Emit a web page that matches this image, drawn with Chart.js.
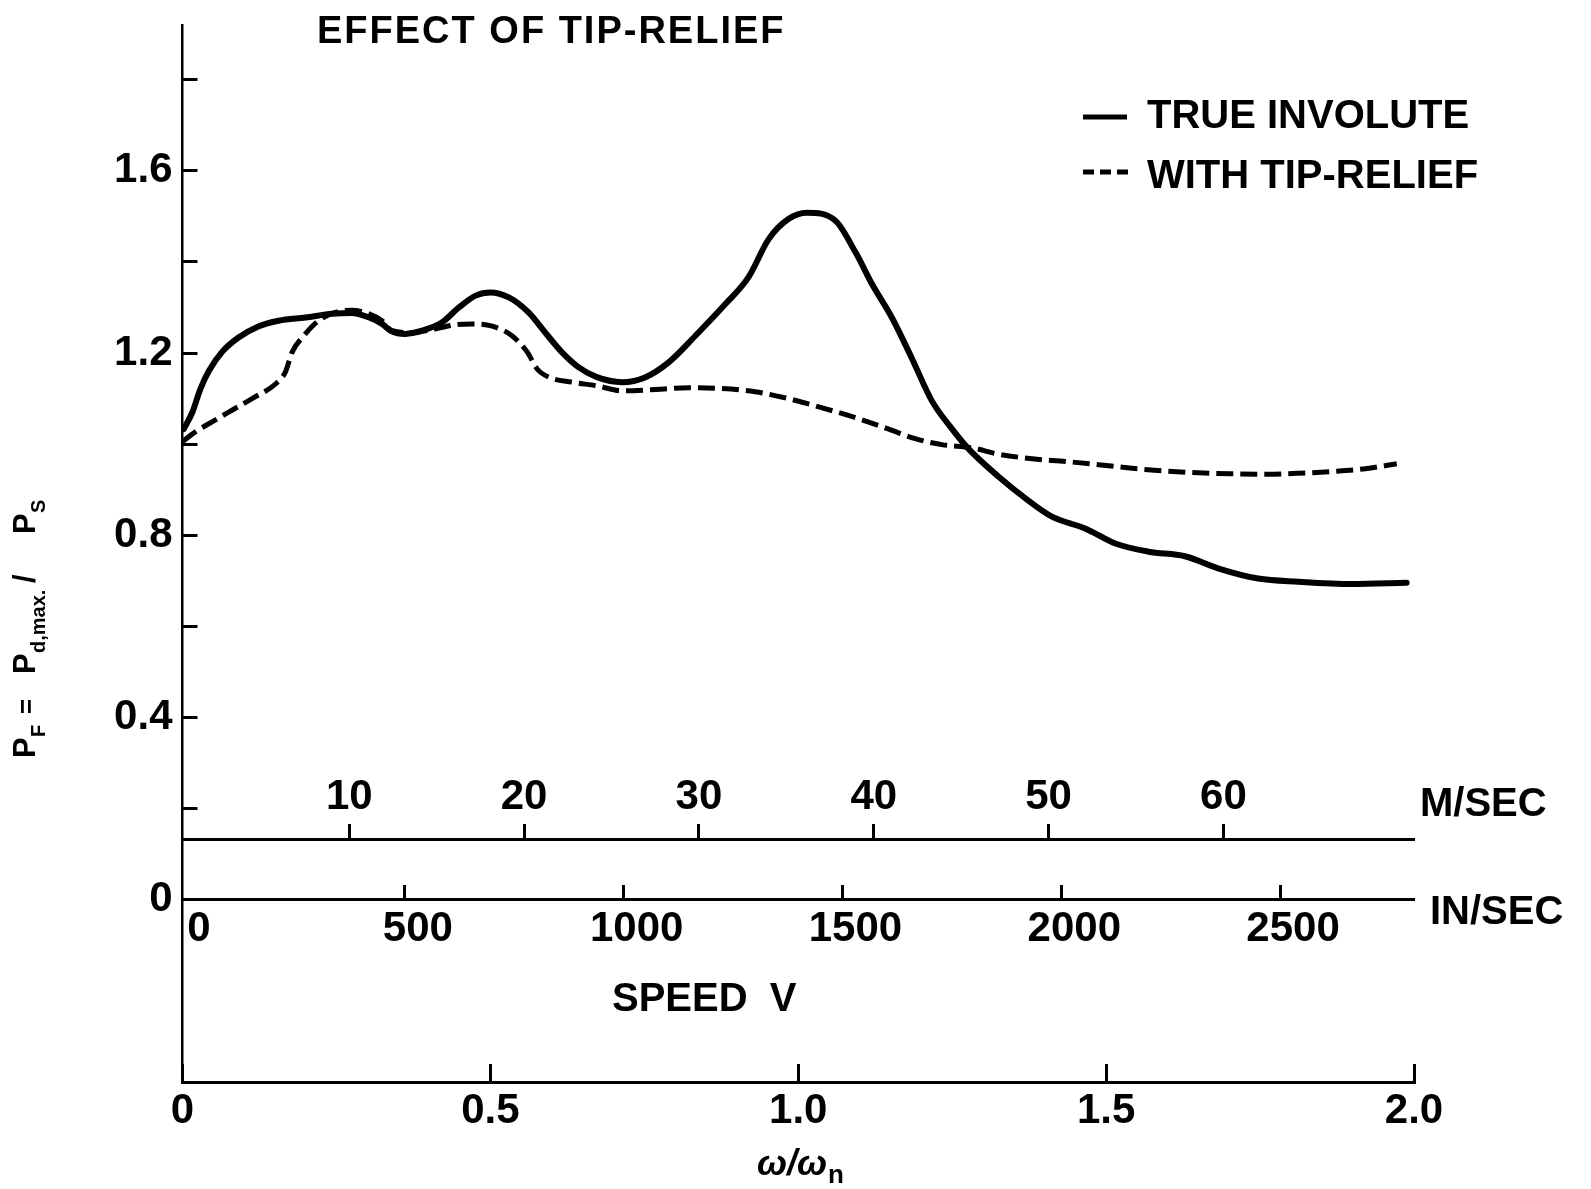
<!DOCTYPE html>
<html>
<head>
<meta charset="utf-8">
<title>Effect of tip-relief</title>
<script src="https://cdn.jsdelivr.net/npm/chart.js@4.4.1/dist/chart.umd.min.js"></script>
<style>
    html, body { margin: 0; padding: 0; background: #fff; }
    #grafico { display: block; }
</style>
</head>
<body>
<canvas id="grafico" width="1591" height="1189"></canvas>
<script>
// Datos (eje x: ω/ωn, eje y: PF = Pd,max / PS)
const omegaInvoluta = [0.002, 0.016, 0.029, 0.043, 0.064, 0.091, 0.124, 0.156, 0.200, 0.243, 0.275, 0.303, 0.324, 0.338, 0.362, 0.389, 0.421, 0.449, 0.476, 0.500, 0.530, 0.562, 0.589, 0.616, 0.643, 0.673,
    0.714, 0.752, 0.790, 0.833, 0.882, 0.919, 0.952, 0.984, 1.014, 1.060, 1.093, 1.120, 1.152, 1.185, 1.217, 1.250, 1.277,
    1.325, 1.369, 1.412, 1.466, 1.515, 1.569, 1.628, 1.683, 1.747, 1.812, 1.899, 1.988];
const pfInvoluta = [1.033, 1.070, 1.121, 1.161, 1.202, 1.234, 1.259, 1.271, 1.278, 1.286, 1.288, 1.278, 1.264, 1.249, 1.242, 1.249, 1.267, 1.300, 1.326, 1.333, 1.322, 1.289, 1.245, 1.202, 1.169, 1.147,
    1.136, 1.147, 1.180, 1.238, 1.308, 1.366, 1.450, 1.494, 1.508, 1.491, 1.421, 1.351, 1.278, 1.187, 1.095, 1.033, 0.989,
    0.929, 0.881, 0.841, 0.815, 0.782, 0.764, 0.754, 0.727, 0.705, 0.698, 0.693, 0.696];

const omegaAlivio = [0.000, 0.021, 0.048, 0.081, 0.113, 0.151, 0.167, 0.178, 0.197, 0.221, 0.248, 0.275, 0.303, 0.324, 0.340, 0.373, 0.411, 0.443, 0.470, 0.503, 0.535, 0.560, 0.576, 0.595, 0.633, 0.673,
    0.714, 0.768, 0.822, 0.876, 0.930, 0.984, 1.038, 1.093, 1.147, 1.190, 1.233, 1.282,
    1.325, 1.380, 1.434, 1.488, 1.542, 1.596, 1.650, 1.704, 1.758, 1.812, 1.867, 1.921, 1.972];
const pfAlivio = [1.006, 1.027, 1.049, 1.075, 1.100, 1.132, 1.158, 1.202, 1.238, 1.271, 1.289, 1.294, 1.286, 1.271, 1.249, 1.245, 1.253, 1.262, 1.264, 1.259, 1.238, 1.202, 1.165, 1.147, 1.136, 1.128,
    1.117, 1.120, 1.124, 1.122, 1.115, 1.100, 1.080, 1.058, 1.033, 1.012, 0.999, 0.992,
    0.978, 0.968, 0.962, 0.955, 0.947, 0.941, 0.937, 0.935, 0.934, 0.936, 0.940, 0.946, 0.957];

// Marcas de los ejes
const pfTicks = [0, 0.2, 0.4, 0.6, 0.8, 1.0, 1.2, 1.4, 1.6, 1.8];
const pfEtiquetas = ['0', '', '0.4', '', '0.8', '', '1.2', '', '1.6', ''];
const omegaTicks = [0, 0.5, 1.0, 1.5, 2.0];
const omegaEtiquetas = ['0', '0.5', '1.0', '1.5', '2.0'];
const mSecTicks = [10, 20, 30, 40, 50, 60];
const inSecTicks = [0, 500, 1000, 1500, 2000, 2500];

const nombresSeries = ['TRUE INVOLUTE', 'WITH TIP-RELIEF'];
const tituloFigura = 'EFFECT OF TIP-RELIEF';

const FUENTE = "'Liberation Sans', Arial, sans-serif";

function puntos(xs, ys) {
    return xs.map((x, i) => ({ x: x, y: ys[i] }));
}

function fijarTicks(valores) {
    return scale => { scale.ticks = valores.map(v => ({ value: v })); };
}

// Sin relleno extra por las etiquetas, para que el área del gráfico quede donde está en la figura
function sinRelleno(scale) {
    scale.paddingTop = 0;
    scale.paddingBottom = 0;
    scale.paddingLeft = 0;
    scale.paddingRight = 0;
}

// Textos que no son parte de los ejes: título, leyenda, unidades y títulos de ejes
const textosFigura = {
    id: 'textosFigura',
    afterDraw(chart) {
        const ctx = chart.ctx;
        ctx.save();
        ctx.fillStyle = '#000';
        ctx.strokeStyle = '#000';
        ctx.textAlign = 'left';
        ctx.textBaseline = 'alphabetic';

        // título
        ctx.font = 'bold 38px ' + FUENTE;
        ctx.letterSpacing = '2px';
        ctx.fillText(tituloFigura, 317, 43);
        ctx.letterSpacing = '0px';

        // leyenda
        ctx.lineWidth = 5;
        ctx.setLineDash([]);
        ctx.beginPath();
        ctx.moveTo(1083, 117);
        ctx.lineTo(1127, 117);
        ctx.stroke();
        ctx.setLineDash([11, 6]);
        ctx.beginPath();
        ctx.moveTo(1083, 172);
        ctx.lineTo(1129, 172);
        ctx.stroke();
        ctx.setLineDash([]);
        ctx.font = 'bold 40px ' + FUENTE;
        ctx.fillText(chart.data.datasets[0].label, 1147, 128);
        ctx.fillText(chart.data.datasets[1].label, 1147, 188);

        // unidades de las escalas de velocidad
        ctx.fillText('M/SEC', 1420, 816);
        ctx.fillText('IN/SEC', 1430, 924);
        ctx.fillText('SPEED  V', 612, 1011);

        // título eje x: ω/ωn
        ctx.font = 'italic bold 36px ' + FUENTE;
        ctx.fillText('ω/ω', 757, 1175);
        const anchoOmega = ctx.measureText('ω/ω').width;
        ctx.font = 'bold 26px ' + FUENTE;
        ctx.fillText('n', 757 + anchoOmega + 1, 1183);

        // título eje y: PF = Pd,max. / PS (girado)
        ctx.translate(35, 758);
        ctx.rotate(-Math.PI / 2);
        const grande = 'bold 31px ' + FUENTE;
        const chica = 'bold 20px ' + FUENTE;
        const piezas = [
            ['P', 0, grande, 0],
            ['F', 21, chica, 10],
            ['=', 44, 'bold 26px ' + FUENTE, 0],
            ['P', 84, grande, 0],
            ['d,max.', 105, chica, 10],
            ['/', 175, grande, 0],
            ['P', 224, grande, 0],
            ['S', 245, chica, 10]
        ];
        piezas.forEach(p => {
            ctx.font = p[2];
            ctx.fillText(p[0], p[1], p[3]);
        });
        ctx.restore();
    }
};

Chart.defaults.font.family = FUENTE;
Chart.defaults.font.weight = 'bold';
Chart.defaults.font.size = 42;
Chart.defaults.color = '#000';

const ejeNegro = { display: true, color: '#000', width: 3 };

new Chart(document.getElementById('grafico'), {
    type: 'line',
    data: {
        datasets: [
            {
                label: nombresSeries[0],
                data: puntos(omegaInvoluta, pfInvoluta),
                borderColor: '#000',
                borderWidth: 6,
                borderCapStyle: 'round',
                borderJoinStyle: 'round',
                pointRadius: 0,
                cubicInterpolationMode: 'monotone',
                fill: false
            },
            {
                label: nombresSeries[1],
                data: puntos(omegaAlivio, pfAlivio),
                borderColor: '#000',
                borderWidth: 5,
                borderDash: [17, 7],
                pointRadius: 0,
                cubicInterpolationMode: 'monotone',
                fill: false
            }
        ]
    },
    options: {
        responsive: false,
        animation: false,
        devicePixelRatio: 1,
        layout: { padding: { left: 0, top: 25, right: 177, bottom: 0 } },
        plugins: {
            legend: { display: false },
            tooltip: { enabled: false },
            title: { display: false }
        },
        scales: {
            x: {
                type: 'linear',
                position: 'bottom',
                min: 0,
                max: 2.0,
                afterBuildTicks: fijarTicks(omegaTicks),
                afterFit: scale => { scale.height = 107; sinRelleno(scale); },
                border: ejeNegro,
                grid: { display: true, drawOnChartArea: false, drawTicks: true, tickLength: -18, tickWidth: 3, tickColor: '#000' },
                ticks: {
                    autoSkip: false,
                    maxRotation: 0,
                    padding: 22.5,
                    callback: (v, i) => omegaEtiquetas[i]
                }
            },
            y: {
                type: 'linear',
                position: 'left',
                min: -0.4,
                max: 1.92,
                afterBuildTicks: fijarTicks(pfTicks),
                afterFit: scale => { scale.width = 182.5; sinRelleno(scale); },
                border: { display: true, color: '#000', width: 2.5 },
                grid: { display: true, drawOnChartArea: false, drawTicks: true, tickLength: -15, tickWidth: 3, tickColor: '#000' },
                ticks: {
                    autoSkip: false,
                    padding: 25,
                    callback: (v, i) => pfEtiquetas[i]
                }
            },
            metros: {
                type: 'linear',
                axis: 'x',
                position: { y: 0.133 },
                min: 0.46,
                max: 70.9,
                afterBuildTicks: fijarTicks(mSecTicks),
                border: ejeNegro,
                grid: { display: true, drawOnChartArea: false, drawTicks: true, tickLength: -17, tickWidth: 3, tickColor: '#000' },
                ticks: {
                    autoSkip: false,
                    maxRotation: 0,
                    padding: -49.5,
                    callback: v => String(v)
                }
            },
            pulgadas: {
                type: 'linear',
                axis: 'x',
                position: { y: 0 },
                min: -8,
                max: 2806,
                afterBuildTicks: fijarTicks(inSecTicks),
                border: ejeNegro,
                grid: {
                    display: true,
                    drawOnChartArea: false,
                    drawTicks: true,
                    tickLength: -16,
                    tickWidth: 3,
                    tickColor: c => (c.tick && c.tick.value === 0) ? 'rgba(0,0,0,0)' : '#000'
                },
                ticks: {
                    autoSkip: false,
                    maxRotation: 0,
                    padding: 20.5,
                    labelOffset: 13,
                    callback: v => String(v)
                }
            }
        }
    },
    plugins: [textosFigura]
});
</script>
</body>
</html>
